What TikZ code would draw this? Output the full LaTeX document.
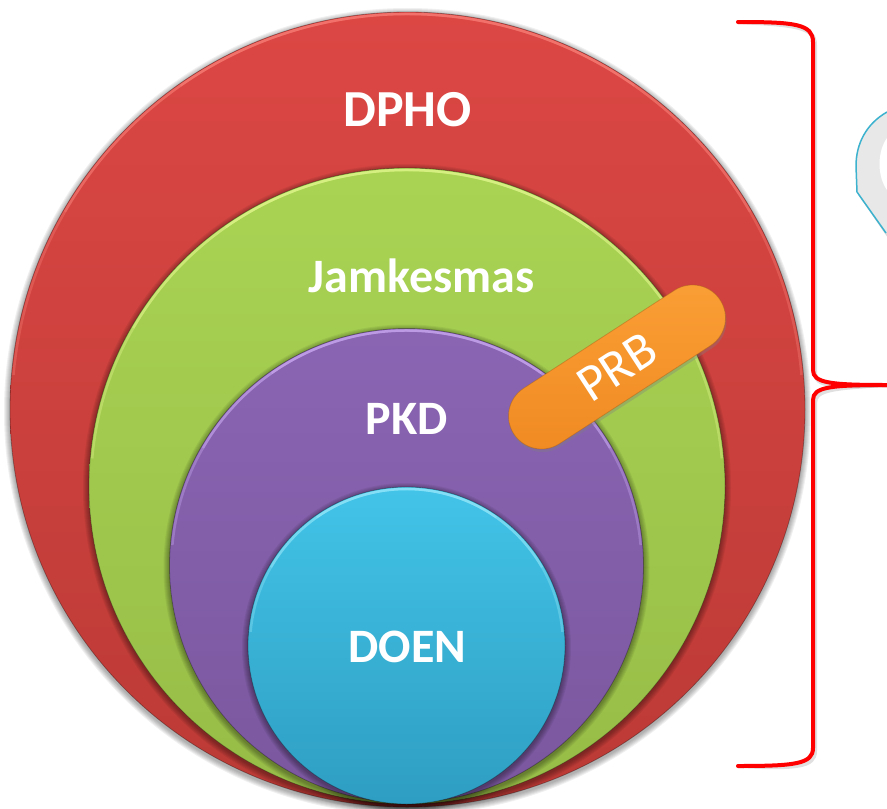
\documentclass[tikz,border=0pt]{standalone}
\usepackage{fontspec}
\setmainfont{Carlito}
\usetikzlibrary{shadows,shapes.misc}

\definecolor{redTop}{HTML}{DC4744}
\definecolor{redBot}{HTML}{BB3A36}
\definecolor{redHi}{HTML}{FF8A80}
\definecolor{greenTop}{HTML}{A9D453}
\definecolor{greenBot}{HTML}{97BC47}
\definecolor{greenHi}{HTML}{EFFF9A}
\definecolor{purpleTop}{HTML}{8A65B3}
\definecolor{purpleBot}{HTML}{7A579E}
\definecolor{purpleHi}{HTML}{D9B8FF}
\definecolor{blueTop}{HTML}{42C4E8}
\definecolor{blueBot}{HTML}{2E9EC2}
\definecolor{blueHi}{HTML}{A8F0FF}
\definecolor{orangeTop}{HTML}{FA9F35}
\definecolor{orangeBot}{HTML}{F08A22}
\definecolor{braceRed}{HTML}{FF0000}
\definecolor{calloutEdge}{HTML}{3DB2CF}

\tikzset{
  disc/.style={circle, inner sep=0pt, outer sep=0pt,
    draw=black, draw opacity=0.3, line width=0.8pt},
  lbl/.style={text=white, inner sep=0pt, anchor=base,
    font=\bfseries\fontsize{48}{48}\selectfont},
  pill/.style={rounded rectangle, inner sep=0pt,
    minimum width=246pt, minimum height=66pt,
    top color=orangeTop, bottom color=orangeBot,
    draw=orangeBot!70!black, draw opacity=0.45, line width=0.8pt,
    text=white, font=\fontsize{52}{52}\selectfont,
    drop shadow={opacity=0.35, shadow xshift=1pt, shadow yshift=-3pt}},
  bracket/.style={draw=braceRed, line width=4pt, line cap=round, line join=round},
  bracketshade/.style={draw=black, opacity=0.12, line width=4pt, line cap=round}
}

% one layered disc: soft shadow, shaded body, light rim along the top
\newcommand\drawdisc[7]{%
  \foreach \k in {1,...,6}{\fill[black,opacity=0.06] (#2,#3+2) circle ({#4+\k});}
  \node[disc, minimum size={(2*#4)*1pt}, top color=#5, bottom color=#6] (#1) at (#2,#3) {};
  \foreach \s in {35,60,85}{%
    \draw[#7, line width=2.5pt, opacity=0.3]
      (#2,#3) ++({270-\s}:{#4-2}) arc[start angle={270-\s}, end angle={270+\s}, radius={#4-2}];}
}

\begin{document}
\begin{tikzpicture}[x=1pt,y=-1pt]
\useasboundingbox (0,0) rectangle (887,809);

% nested discs, outermost first
\drawdisc{dpho}{407.5}{409.5}{397.5}{redTop}{redBot}{redHi}
\drawdisc{jamkesmas}{407}{486}{318}{greenTop}{greenBot}{greenHi}
\drawdisc{pkd}{406.5}{565.5}{237}{purpleTop}{purpleBot}{purpleHi}
\drawdisc{doen}{406.5}{645.5}{158.5}{blueTop}{blueBot}{blueHi}

% the PRB bar across the rings
\node[pill, rotate=33] (prb) at (617,367) {PRB};

% ring labels
\node[lbl, font=\bfseries\fontsize{52}{52}\selectfont] (tDpho) at (407.5,126) {DPHO};
\node[lbl] (tJamkesmas) at (421.5,292) {Jamkesmas};
\node[lbl] (tPkd) at (407,434) {PKD};
\node[lbl] (tDoen) at (407.5,662) {DOEN};

% right-hand bracket
\coordinate (bTop) at (738,22);
\coordinate (bBot) at (738,766);
\coordinate (bTip) at (887,385);
\begin{scope}[shift={(2,3)}]
  \draw[bracketshade] (bTop) .. controls (795,22) and (813,24) .. (813,42) -- (813,370)
    .. controls (813,383) and (830,385) .. (bTip);
  \draw[bracketshade] (bTip) .. controls (830,385) and (813,387) .. (813,400) -- (813,748)
    .. controls (813,764) and (795,766) .. (bBot);
\end{scope}
\draw[bracket] (bTop) .. controls (795,22) and (813,24) .. (813,42) -- (813,370)
  .. controls (813,383) and (830,385) .. (bTip);
\draw[bracket] (bTip) .. controls (830,385) and (813,387) .. (813,400) -- (813,748)
  .. controls (813,764) and (795,766) .. (bBot);

% edge of a callout shape at the right border
\fill[black, opacity=0.15] (889,116) .. controls (868,128) and (858,148) .. (858,170)
  -- (859,196) -- (888,238) -- cycle;
\fill[black!9] (887,112) .. controls (866,124) and (856,144) .. (856,166)
  -- (857,192) -- (886,233) -- (887,233) -- cycle;
\fill[white] (887,138) .. controls (877,152) and (877,176) .. (887,190) -- cycle;
\draw[calloutEdge, line width=1.5pt] (887,112) .. controls (866,124) and (856,144) .. (856,166)
  -- (857,192) -- (886,233);
\end{tikzpicture}
\end{document}
